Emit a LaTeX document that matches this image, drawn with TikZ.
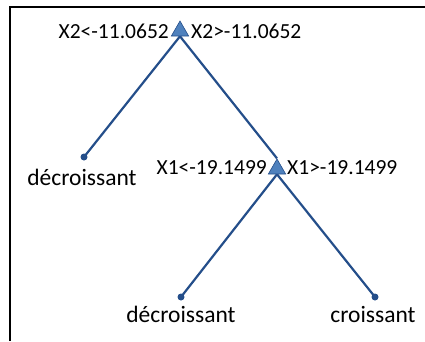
\documentclass[tikz,border=0pt]{standalone}
\usepackage{fontspec}
\setmainfont{Carlito}
\usepackage{xcolor}
\usepackage{tikz}
\usetikzlibrary{shapes.geometric, positioning, backgrounds}

\definecolor{ramo}{RGB}{36,78,138}
\definecolor{nodo}{RGB}{79,129,189}

\begin{document}
\begin{tikzpicture}[x=1pt, y=-1pt,
    split/.style={regular polygon, regular polygon sides=3, minimum size=20pt, inner sep=0pt, fill=nodo, draw=ramo, line width=0.6pt},
    foglia/.style={circle, fill=ramo, inner sep=0pt, minimum size=7pt},
    testo/.style={font=\fontsize{21.5}{24}\selectfont, inner sep=0pt},
    classe/.style={font=\fontsize{23.5}{26}\selectfont, inner sep=0pt}]
    \useasboundingbox (0,0) rectangle (425,341);

    % Cornice
    \draw[line width=2.2pt] (10,341) -- (10,7) -- (425,7);

    % Nodi
    \node[split] (r) at (180,31) {};
    \node[split] (s) at (277,169) {};
    \node[foglia] (a) at (84,157) {};
    \node[foglia] (b) at (181,297) {};
    \node[foglia] (c) at (375,297) {};

    % Rami
    \begin{pgfonlayer}{background}
    \begin{scope}[line width=2.2pt, ramo]
    \draw (r.south) -- (a.center);
    \draw (r.south) -- (s.north);
    \draw (s.south) -- (b.center);
    \draw (s.south) -- (c.center);
    \end{scope}
    \end{pgfonlayer}

    % Etichette
    \node[testo, anchor=east] (rl) at (169,31) {X2<-11.0652};
    \node[testo, anchor=west] (rr) at (191,31) {X2>-11.0652};
    \node[testo, anchor=east] (sl) at (267,168) {X1<-19.1499};
    \node[testo, anchor=west] (sr) at (287,168) {X1>-19.1499};
    \node[classe] (la) at (82,177) {décroissant};
    \node[classe] (lb) at (181,314) {décroissant};
    \node[classe] (lc) at (373,314) {croissant};
\end{tikzpicture}
\end{document}
